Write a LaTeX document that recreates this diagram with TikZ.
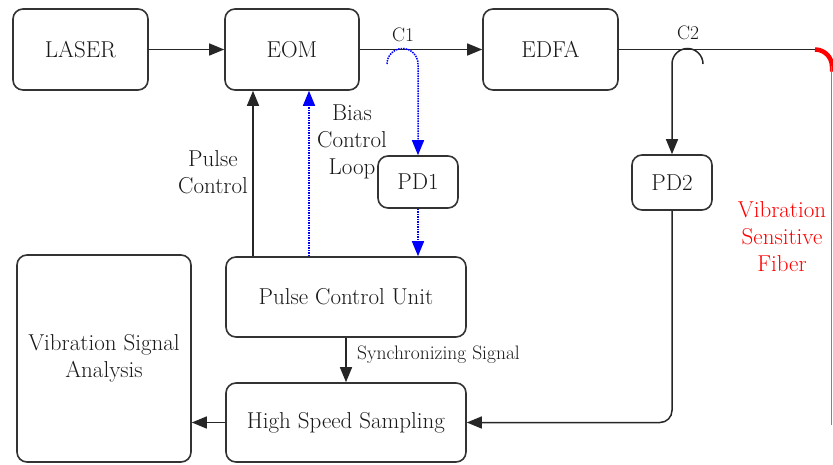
\documentclass[tikz,border=0pt]{standalone}
\usepackage{fontspec}
\usetikzlibrary{arrows.meta}
\tikzset{
 box/.style={draw=black!80, line width=1.6pt, rounded corners=10pt, inner sep=0pt, font=\fontsize{23}{27}\selectfont, text=black!90, align=center},
 plain/.style={draw=black!85, line width=1.5pt},
 conn/.style={plain, -{Triangle[length=15pt,width=12pt]}},
 bias/.style={draw=blue, line width=1.5pt, densely dotted, -{Triangle[length=15pt,width=12pt]}},
 lbl/.style={font=\fontsize{23}{27}\selectfont, text=black!90, align=center, inner sep=0pt},
 small/.style={font=\fontsize{19.5}{22}\selectfont, text=black!90, inner sep=0pt},
}
\begin{document}
\begin{tikzpicture}[x=1pt,y=-1pt]
\useasboundingbox (0,0) rectangle (833,464);
\node[box, minimum width=135pt, minimum height=81pt] (laser) at (80.5,49.5) {LASER};
\node[box, minimum width=134pt, minimum height=81pt] (eom) at (292,49.5) {EOM};
\node[box, minimum width=135pt, minimum height=81pt] (edfa) at (550.5,49.5) {EDFA};
\node[box, minimum width=80pt, minimum height=52pt] (pd1) at (418,182) {PD1};
\node[box, minimum width=80pt, minimum height=55pt] (pd2) at (672,182.5) {PD2};
\node[box, minimum width=240pt, minimum height=80pt] (pcu) at (346,297) {Pulse Control Unit};
\node[box, minimum width=240pt, minimum height=79pt] (hss) at (346,422.5) {High Speed Sampling};
\node[box, minimum width=174pt, minimum height=207pt] (vsa) at (104,358.5) {Vibration Signal\\Analysis};

% labels
\node[small] (c1) at (403,35) {C1};
\node[small] (c2) at (688,33) {C2};
\node[lbl] (pctext) at (213,172) {Pulse\\Control};
\node[lbl] (bctext) at (352,142) {Bias\\Control\\Loop};
\node[lbl, text=red] (vsf) at (782,237) {Vibration\\Sensitive\\Fiber};
\node[small, anchor=west] (sync) at (357,355) {Synchronizing Signal};

% coordinates
\coordinate (pcx) at (253,0);
\coordinate (bx) at (309,0);
\coordinate (h1) at (387,64);
\coordinate (h2) at (703,64);
\coordinate (fc) at (815,49.5);
\coordinate (fend) at (831.5,425);

% connectors
\draw[conn] (laser.east) -- (eom.west);
\draw[conn] (eom.east) -- (edfa.west);
\draw[plain] (edfa.east) -- (fc);
\draw[red, line width=4.5pt] (fc) arc[start angle=270, end angle=360, radius=17] -- ++(0,5);
\draw[red!70, line width=1.5pt] (831.5,66) -- (fend);
\draw[bias] (h1) arc[start angle=180, end angle=360, radius=15.5] -- (pd1.north);
\draw[bias] (pd1.south) -- (pd1.south |- pcu.north);
\draw[bias] (pcu.north -| bx) -- (eom.south -| bx);
\draw[conn] (pcu.north -| pcx) -- (eom.south -| pcx);
\draw[conn] (h2) arc[start angle=0, end angle=-180, radius=15.5] -- (pd2.north);
\draw[conn, rounded corners=12pt] (pd2.south) |- (hss.east);
\draw[conn] (pcu.south) -- (hss.north);
\draw[conn] (hss.west) -- (hss.west -| vsa.east);
\end{tikzpicture}
\end{document}
